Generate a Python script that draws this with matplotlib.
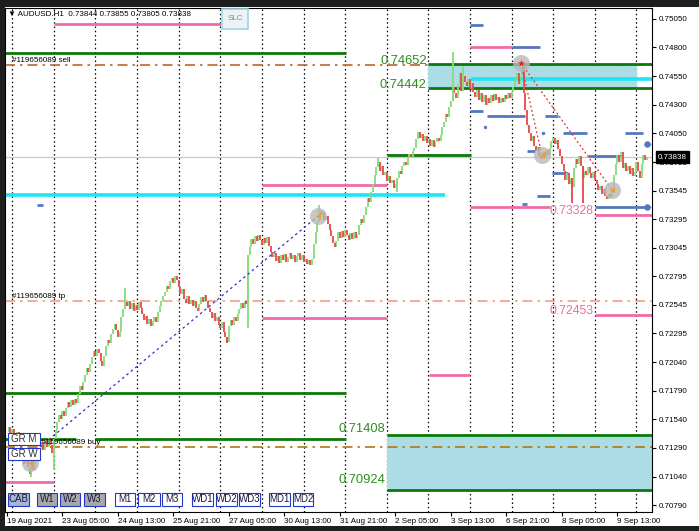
import matplotlib
matplotlib.use('Agg')
import matplotlib.pyplot as plt
import matplotlib.transforms as mtransforms
from matplotlib.patches import Rectangle
import numpy as np

plt.rcParams['font.family'] = ['Liberation Sans', 'DejaVu Sans']

W, H = 699, 531

# ---------------- data ----------------
closes = [
    0.7143, 0.7147, 0.7140, 0.7146, 0.7141, 0.7137, 0.7143, 0.7136, 0.7127, 0.7121,
    0.7115, 0.7124, 0.7112, 0.7106, 0.7118, 0.7110, 0.7120, 0.7125, 0.7119, 0.7128,
    0.7133, 0.7127, 0.7136, 0.7130, 0.7138, 0.7132, 0.7125, 0.7137, 0.7145, 0.7152,
    0.7158, 0.7154, 0.7161, 0.7157, 0.7164, 0.7169, 0.7165, 0.7171, 0.7167, 0.7172,
    0.7168, 0.7176, 0.7183, 0.7180, 0.7187, 0.7193, 0.7199, 0.7196, 0.7203, 0.7209,
    0.7214, 0.7210, 0.7216, 0.7212, 0.7205, 0.7201, 0.7210, 0.7218, 0.7224, 0.7221,
    0.7229, 0.7233, 0.7238, 0.7232, 0.7226, 0.7231, 0.7244, 0.7251, 0.7257, 0.7253,
    0.7258, 0.7251, 0.7256, 0.7249, 0.7254, 0.7250, 0.7257, 0.7252, 0.7246, 0.7241,
    0.7245, 0.7238, 0.7242, 0.7236, 0.7240, 0.7244, 0.7239, 0.7248, 0.7253, 0.7258,
    0.7262, 0.7266, 0.7271, 0.7268, 0.7275, 0.7278, 0.7274, 0.7280, 0.7276, 0.7270,
    0.7264, 0.7268, 0.7260, 0.7256, 0.7262, 0.7255, 0.7259, 0.7253, 0.7258, 0.7252,
    0.7249, 0.7255, 0.7261, 0.7257, 0.7263, 0.7258, 0.7252, 0.7248, 0.7243, 0.7247,
    0.7240, 0.7244, 0.7237, 0.7234, 0.7239, 0.7231, 0.7226, 0.7222, 0.7236, 0.7241,
    0.7237, 0.7244, 0.7240, 0.7246, 0.7251, 0.7256, 0.7252, 0.7258, 0.7255, 0.7298,
    0.7305, 0.7312, 0.7308, 0.7315, 0.7310, 0.7316, 0.7311, 0.7307, 0.7313, 0.7309,
    0.7314, 0.7306, 0.7301, 0.7296, 0.7300, 0.7293, 0.7297, 0.7291, 0.7298, 0.7294,
    0.7299, 0.7292, 0.7296, 0.7300, 0.7295, 0.7298, 0.7292, 0.7297, 0.7300, 0.7294,
    0.7298, 0.7292, 0.7295, 0.7290, 0.7294, 0.7289, 0.7295, 0.7308, 0.7318, 0.7327,
    0.7337, 0.7333, 0.7336, 0.7329, 0.7332, 0.7325, 0.7320, 0.7315, 0.7309, 0.7305,
    0.7310, 0.7318, 0.7313, 0.7319, 0.7314, 0.7320, 0.7316, 0.7311, 0.7317, 0.7312,
    0.7318, 0.7313, 0.7316, 0.7324, 0.7330, 0.7326, 0.7333, 0.7340, 0.7348, 0.7345,
    0.7353, 0.7360, 0.7368, 0.7375, 0.7380, 0.7372, 0.7376, 0.7368, 0.7371, 0.7363,
    0.7367, 0.7361, 0.7364, 0.7357, 0.7360, 0.7366, 0.7372, 0.7369, 0.7376, 0.7380,
    0.7377, 0.7383, 0.7387, 0.7384, 0.7389, 0.7392, 0.7400, 0.7406, 0.7401, 0.7404,
    0.7398, 0.7402, 0.7396, 0.7400, 0.7394, 0.7399, 0.7393, 0.7397, 0.7401, 0.7398,
    0.7403, 0.7410, 0.7415, 0.7422, 0.7419, 0.7428, 0.7433, 0.7445, 0.7440, 0.7436,
    0.7448, 0.7458, 0.7442, 0.7455, 0.7450, 0.7446, 0.7452, 0.7444, 0.7449, 0.7441,
    0.7437, 0.7443, 0.7434, 0.7440, 0.7432, 0.7438, 0.7430, 0.7436, 0.7431, 0.7438,
    0.7433, 0.7439, 0.7434, 0.7437, 0.7431, 0.7436, 0.7432, 0.7438, 0.7435, 0.7440,
    0.7436, 0.7441, 0.7445, 0.7452, 0.7458, 0.7448, 0.7455, 0.7462, 0.7440, 0.7425,
    0.7412, 0.7405, 0.7398, 0.7402, 0.7394, 0.7389, 0.7393, 0.7385, 0.7382, 0.7388,
    0.7384, 0.7390, 0.7386, 0.7392, 0.7398, 0.7401, 0.7395, 0.7399, 0.7391, 0.7385,
    0.7378, 0.7372, 0.7364, 0.7370, 0.7360, 0.7366, 0.7358, 0.7374, 0.7382, 0.7378,
    0.7385, 0.7376, 0.7366, 0.7372, 0.7368, 0.7375, 0.7370, 0.7366, 0.7371, 0.7364,
    0.7360, 0.7355, 0.7359, 0.7352, 0.7356, 0.7350, 0.7347, 0.7352, 0.7349, 0.7356,
    0.7368, 0.7378, 0.7386, 0.7380, 0.7388, 0.7374, 0.7379, 0.7372, 0.7376, 0.7369,
    0.7374, 0.7367, 0.7371, 0.7380, 0.7372, 0.7366, 0.7378, 0.7386, 0.7381, 0.73838,
]

spike_bars = [14, 27, 68, 127, 139, 180, 214, 225, 257, 263, 297, 326, 332]
spike_prices = [0.7104, 0.7110, 0.7269, 0.7221, 0.7234, 0.7342, 0.7383, 0.7353,
                0.7476, 0.7463, 0.7467, 0.7344, 0.7344]

time_tick_bars = [0, 32, 64, 96, 128, 160, 192, 224, 256, 288, 320, 352]
time_tick_labels = ['19 Aug 2021', '23 Aug 05:00', '24 Aug 13:00', '25 Aug 21:00',
                    '27 Aug 05:00', '30 Aug 13:00', '31 Aug 21:00', '2 Sep 05:00',
                    '3 Sep 13:00', '6 Sep 21:00', '8 Sep 05:00', '9 Sep 13:00']
day_bars = [3, 27, 51, 75, 99, 123, 147, 171, 195, 219, 243, 267, 291, 315, 339, 363]
price_ticks = [0.75050, 0.74800, 0.74550, 0.74300, 0.74050, 0.73795, 0.73545, 0.73295,
               0.73045, 0.72795, 0.72545, 0.72295, 0.72040, 0.71790, 0.71540, 0.71290,
               0.71040, 0.70790]
last_price = 0.73838
header = '\u25bc AUDUSD.H1  0.73844 0.73855 0.73805 0.73838'

pink_start = [27.1, 267.0, 147.1, 267.0, 339.1, 147.1, 339.1, 243.4, -1.2]
pink_end = [123.4, 291.2, 219.1, 313.1, 372.0, 219.1, 372.0, 267.0, 27.1]
pink_price = [0.75006, 0.74805, 0.73591, 0.73402, 0.73328, 0.72428, 0.72453, 0.71930, 0.70992]

green_start = [-1.2, 242.8, 242.8, 219.1, -1.2, -1.2, 50.7, 219.1, 219.1]
green_end = [195.5, 372.0, 372.0, 267.6, 195.5, 39.8, 195.5, 372.0, 372.0]
green_price = [0.74752, 0.74652, 0.74442, 0.73858, 0.71772, 0.71369, 0.71369, 0.71408, 0.70924]

cyan_start = [267.6, -1.2]
cyan_end = [372.0, 252.6]
cyan_price = [0.74524, 0.73503]

blue_start = [267.0, 291.2, 267.0, 276.8, 310.3, 320.6, 356.4, 299.9, 335.1, 314.3, 305.7, 339.1, 17.3, 297.0]
blue_end = [274.5, 307.4, 274.5, 298.7, 317.8, 334.5, 366.8, 304.5, 354.7, 323.5, 313.1, 369.1, 20.8, 300.0]
blue_price = [0.74997, 0.74805, 0.74244, 0.74200, 0.74200, 0.74051, 0.74051, 0.73893, 0.73849,
              0.73700, 0.73499, 0.73402, 0.73420, 0.73430]

blue_dot_bars = [275.7, 309.1, 369.1, 369.1]
blue_dot_prices = [0.74103, 0.74051, 0.73954, 0.73402]
blue_dot_big = [False, False, True, True]

zone_start = [242.8, 219.1]
zone_end = [363.3, 372.0]
zone_low = [0.74442, 0.70924]
zone_high = [0.74652, 0.71408]

zone_label_bars = [242.8, 242.8, 219.1, 219.1]
zone_label_prices = [0.74652, 0.74442, 0.71408, 0.70924]
pink_label_bars = [339.1, 339.1]
pink_label_prices = [0.73328, 0.72453]

order_prices = [0.74645, 0.72574, 0.71299]
order_labels = ['#119656089 sell', '#119656089 tp', '#119656089 buy']
order_label_bars = [2.9, 2.9, 19.5]

blue_trend_bars = [19.0, 179.4]
blue_trend_prices = [0.71299, 0.73323]
red_trend1_bars = [296.4, 308.5]
red_trend1_prices = [0.74664, 0.73858]
red_trend2_bars = [296.4, 349.0]
red_trend2_prices = [0.74664, 0.73551]
circle_bars = [13.3, 179.4, 296.4, 308.5, 349.0]
circle_prices = [0.71158, 0.73323, 0.74664, 0.73858, 0.73551]

# ---------------- figure ----------------
fig = plt.figure(figsize=(W / 100, H / 100), dpi=100)
fig.patch.set_facecolor('white')

def fx(px):
    return px / W

def fy(py):
    return 1 - py / H

ax = fig.add_axes([fx(5), fy(512), (652 - 5) / W, (512 - 8) / H])
ax.set_xlim(-1.15, 371.97)
ax.set_ylim(0.70729, 0.75146)
ax.set_facecolor('white')
for s in ax.spines.values():
    s.set_color('black')
    s.set_linewidth(0.8)

FS = 5.8

# day separators
for b in day_bars:
    ax.axvline(b, color='black', lw=0.9, ls=(0, (1.2, 2.2)), zorder=1)

# zones
for s0, s1, lo, hi in zip(zone_start, zone_end, zone_low, zone_high):
    ax.fill_between([s0, s1], lo, hi, color='#acdde6', lw=0, zorder=1.2)

# order lines (dash-dot)
order_colors = ['#b8662c', '#f0a07c', '#b07a10']
for p, c in zip(order_prices, order_colors):
    ax.axhline(p, color=c, lw=1.2, ls=(0, (6, 3, 1.5, 3)), zorder=1.5)

# bid line
ax.axhline(last_price, color='#c8c8c8', lw=0.9, zorder=1.4)

def hsegs(starts, ends, prices, color, lw, z=2):
    for s0, s1, p in zip(starts, ends, prices):
        ax.plot([s0, s1], [p, p], color=color, lw=lw, solid_capstyle='butt', zorder=z)

hsegs(cyan_start, cyan_end, cyan_price, '#19e6f2', 2.6)
hsegs(pink_start, pink_end, pink_price, '#f06aa8', 2.0)
hsegs(green_start, green_end, green_price, '#0b7a0b', 2.0)
hsegs(blue_start, blue_end, blue_price, '#5478c0', 2.0)

# candles
c = np.array(closes)
o = np.concatenate([[c[0]], c[:-1]])
idx = np.arange(len(c))
up = c >= o
lo = np.minimum(o, c)
hi = np.maximum(o, c)
col_up, col_dn = '#86dc78', '#e84848'
ax.vlines(idx[up], lo[up], hi[up], color=col_up, lw=1.3, zorder=3)
ax.vlines(idx[~up], lo[~up], hi[~up], color=col_dn, lw=1.3, zorder=3)
for b, p in zip(spike_bars, spike_prices):
    ax.vlines(b, min(p, lo[b]), max(p, hi[b]), color=col_up if up[b] else col_dn, lw=1.3, zorder=3)

# trend lines
ax.plot(blue_trend_bars, blue_trend_prices, color='#3030c8', lw=0.9, ls=(0, (2, 2.5)), zorder=4)
ax.plot(red_trend1_bars, red_trend1_prices, color='#e03030', lw=0.9, ls=(0, (1.5, 2)), zorder=4)
ax.plot(red_trend2_bars, red_trend2_prices, color='#e03030', lw=0.9, ls=(0, (1.5, 2)), zorder=4)
ax.scatter(circle_bars, circle_prices, s=150, color='#b8b8b8', alpha=0.8, lw=0, zorder=5)
ax.scatter([b for b in circle_bars if b != 296.4], [p for b, p in zip(circle_bars, circle_prices) if b != 296.4],
           s=14, marker='<', color='#f0a020', lw=0, zorder=6)
ax.scatter([296.4], [0.74664], s=28, marker='*', color='#e02020', lw=0, zorder=6)

# blue dots
for b, p, big in zip(blue_dot_bars, blue_dot_prices, blue_dot_big):
    ax.scatter([b], [p], s=22 if big else 6, color='#5478c0', lw=0, zorder=6)
    if big:
        ax.plot([b, 372], [p, p], color='#5478c0', lw=0.9, ls=(0, (3, 2, 1, 2)), zorder=6)

# labels
for b, p in zip(zone_label_bars, zone_label_prices):
    ax.annotate(f'{p:.5f}', xy=(b, p), xytext=(-1, 2.5 if p > 0.74 else (4 if p > 0.712 else 7)),
                textcoords='offset points', ha='right', va='center', fontsize=9.3,
                color='#2d8f1f', zorder=7)
for b, p in zip(pink_label_bars, pink_label_prices):
    ax.annotate(f'{p:.5f}', xy=(b, p), xytext=(-1, 3), textcoords='offset points',
                ha='right', va='center', fontsize=8.8, color='#f06aa8', zorder=7)
for b, p, t in zip(order_label_bars, order_prices, order_labels):
    ax.annotate(t, xy=(b, p), xytext=(0, 3.5), textcoords='offset points',
                ha='left', va='center', fontsize=FS, color='black', zorder=7)

# axes ticks
ax.yaxis.tick_right()
ax.set_yticks(price_ticks)
ax.set_yticklabels([f'{p:.5f}' for p in price_ticks], fontsize=FS)
ax.tick_params(axis='y', length=3, width=0.8, pad=2, direction='out')
ax.set_xticks(time_tick_bars)
ax.set_xticklabels(time_tick_labels, fontsize=FS, ha='left')
ax.tick_params(axis='x', length=3, width=0.8, pad=1.5, direction='out')

# current price box
tr = mtransforms.blended_transform_factory(ax.transAxes, ax.transData)
ax.text(1.0 + 6 / 647, last_price, f'{last_price:.5f}', transform=tr, ha='left', va='center',
        fontsize=FS, color='white', zorder=10, clip_on=False,
        bbox=dict(boxstyle='square,pad=0.3', fc='black', ec='black'))

# header
fig.text(fx(8), fy(14), header, fontsize=FS, ha='left', va='center', color='black')

# SLC button
fig.add_artist(Rectangle((fx(222), fy(29)), 26 / W, 20 / H, transform=fig.transFigure,
                         fc='#eef2f4', ec='#9fd6e6', lw=1.2))
fig.text(fx(235), fy(19), 'SLC', fontsize=FS, ha='center', va='center', color='#7a8a98')

# bottom buttons
buttons = [('CAB', 8, 29, '#a7b5d4'), ('W1', 37, 57, '#a8a8a8'), ('W2', 60, 80, '#a8a8a8'),
           ('W3', 84, 105, '#a8a8a8'), ('M1', 115, 135, 'white'), ('M2', 138, 160, 'white'),
           ('M3', 162, 182, 'white'), ('WD1', 192, 213, 'white'), ('WD2', 216, 237, 'white'),
           ('WD3', 239, 260, 'white'), ('MD1', 269, 290, 'white'), ('MD2', 293, 313, 'white')]
for t, x0, x1, fc in buttons:
    fig.add_artist(Rectangle((fx(x0), fy(506)), (x1 - x0) / W, 13 / H, transform=fig.transFigure,
                             fc=fc, ec='#2438c8', lw=0.8))
    fig.text(fx((x0 + x1) / 2), fy(499.5), t, fontsize=7, ha='center', va='center', color='#1a1a40')

for t, y0 in [('GR M', 433), ('GR W', 448)]:
    fig.add_artist(Rectangle((fx(8), fy(y0 + 12)), 32 / W, 12 / H, transform=fig.transFigure,
                             fc='white', ec='#2438c8', lw=0.8))
    fig.text(fx(24), fy(y0 + 6), t, fontsize=7, ha='center', va='center', color='#303030')

# dark window frame
for rect in [(0, fy(7), 1, 7 / H), (0, 0, fx(5), 1), (0, 0, 1, 5 / H)]:
    fig.add_artist(Rectangle(rect[:2], rect[2], rect[3], transform=fig.transFigure,
                             fc='#1e1e1e', ec='none'))

fig.savefig('out.png', dpi=100)
